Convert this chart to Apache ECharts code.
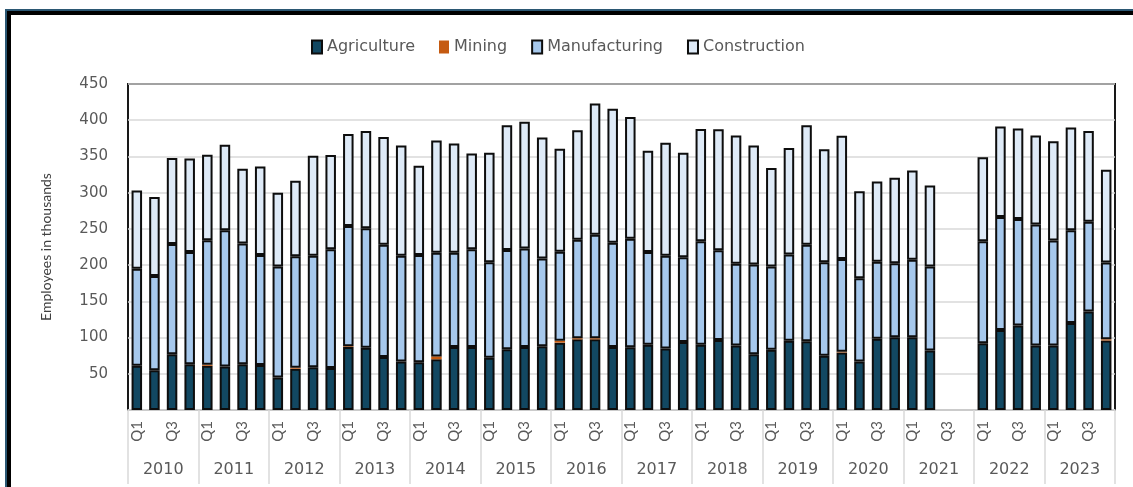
<!DOCTYPE html>
<html>
<head>
<meta charset="utf-8">
<title>Employees by sector, quarterly</title>
<script src="https://cdn.jsdelivr.net/npm/echarts@6/dist/echarts.min.js"></script>
<style>
  html, body { margin: 0; padding: 0; background: #fff; overflow: hidden; }
  #chart { position: absolute; left: 0; top: 0; width: 1133px; height: 487px; }
  .frame { position: absolute; left: 5px; top: 9px; right: -40px; bottom: -40px;
           border-left: 2px solid #2b5773; border-top: 2px solid #2b5773; pointer-events: none; }
  .frame div { position: absolute; left: 0; top: 0; right: 0; bottom: 0;
               border-left: 4px solid #000; border-top: 4px solid #000; }
</style>
</head>
<body>
<div id="chart"></div>
<div class="frame"><div></div></div>
<script>
// quarters 2010 Q1 .. 2023 Q4 (2021 Q3/Q4 not published)
const years = ['2010', '2011', '2012', '2013', '2014', '2015', '2016',
               '2017', '2018', '2019', '2020', '2021', '2022', '2023'];
const quarterNames = ['Q1', 'Q2', 'Q3', 'Q4'];

// thousands of employees
const agriculture = [
    61, 55, 77, 63,   61, 60, 63, 62,   45, 57, 59, 58,   87, 86, 73, 67,
    66, 70, 87, 87,   72, 84, 87, 88,   93, 97.5, 97.5, 87,   86.5, 90, 85, 94,
    90, 96.5, 89, 77,   83, 95.5, 95, 75,   79.5, 67, 98.5, 100.5,   100.5, 82, '-', '-',
    92, 110.5, 116.5, 89,   89, 120, 136, 96
];
const mining = [
    0, 0, 0, 0,   1.4, 0, 0, 0,   0, 1.4, 0, 0,   1, 0, 0, 0,
    0, 4, 0, 0,   0, 0, 0, 0,   2.5, 1.5, 1.5, 0,   0, 0, 0, 0,
    0, 0, 0, 0,   0, 0, 0, 0,   1, 0, 0, 0,   0, 0, '-', '-',
    0, 0, 0, 0,   0, 0, 0, 1.5
];
const manufacturing = [
    134, 130, 152, 155,   172, 188, 167, 152,   153, 154, 154, 164,   166, 165, 155, 146,
    148, 143, 130, 135,   132, 137, 136, 121,   123, 136, 143, 144,   150, 128, 128, 117,
    143, 124, 113, 124,   115, 119, 133, 129,   128, 115, 106, 102,   107, 116, '-', '-',
    141, 156, 147, 167,   145, 128, 124, 106
];
const construction = [
    108, 109, 119, 129,   118, 118, 103, 122,   102, 104, 138, 130,   127, 134, 149, 152,
    123, 155, 151, 132,   151, 172, 175, 167,   142, 151, 181, 185,   168, 140, 156, 144,
    155, 167, 177, 164,   136, 147, 165, 156,   170, 120, 111, 118,   123, 112, '-', '-',
    116, 125, 125, 123,   137, 142, 125, 128
];

const quarters = [];
years.forEach(function (y) {
    quarterNames.forEach(function (q) { quarters.push(q); });
});

const labelColor = '#595959';
const wideFont = 'DejaVu Sans';
const border = { borderColor: '#0d0d0d', borderWidth: 2 };

function barSeries(name, data, color, withBorder) {
    return {
        name: name,
        type: 'bar',
        stack: 'total',
        barWidth: 10.5,
        data: data,
        itemStyle: Object.assign({ color: color }, withBorder ? border : { borderWidth: 0 }),
        emphasis: { disabled: true }
    };
}

const chart = echarts.init(document.getElementById('chart'));
chart.setOption({
    animation: false,
    backgroundColor: '#fff',
    legend: {
        left: 306,
        top: 34,
        icon: 'rect',
        itemWidth: 10,
        itemHeight: 13,
        itemGap: 24,
        textStyle: { color: labelColor, fontFamily: wideFont, fontSize: 16 },
        data: ['Agriculture', 'Mining', 'Manufacturing', 'Construction']
    },
    grid: {
        left: 128, right: 18, top: 84, bottom: 77,
        show: true, borderColor: '#000', borderWidth: 1.8,
        backgroundColor: 'transparent'
    },
    xAxis: [{
        type: 'category',
        data: quarters,
        axisLine: { lineStyle: { color: '#d9d9d9', width: 1.5 } },
        axisTick: { show: false },
        axisLabel: {
            interval: 1,
            rotate: 90,
            margin: 11,
            color: labelColor,
            fontFamily: 'Lato',
            fontSize: 15
        }
    }, {
        type: 'category',
        data: years,
        position: 'bottom',
        axisLine: { show: false },
        axisTick: { show: true, interval: 0, length: 74, lineStyle: { color: '#d9d9d9', width: 1.5 } },
        axisLabel: {
            interval: 0,
            margin: 52,
            color: labelColor,
            fontFamily: wideFont,
            fontSize: 16
        }
    }],
    yAxis: {
        type: 'value',
        min: 0,
        max: 450,
        interval: 50,
        name: 'Employees in thousands',
        nameLocation: 'middle',
        nameGap: 75,
        nameTextStyle: { color: '#404040', fontFamily: 'Lato', fontSize: 14 },
        axisLine: { show: false },
        axisTick: { show: false },
        splitLine: { lineStyle: { color: '#d9d9d9', width: 1.5 } },
        axisLabel: {
            margin: 20,
            color: labelColor,
            fontFamily: wideFont,
            fontSize: 15,
            formatter: function (v) { return v === 0 ? '' : v; }
        }
    },
    series: [
        barSeries('Agriculture', agriculture, '#124862', true),
        barSeries('Mining', mining, '#c55a11', false),
        barSeries('Manufacturing', manufacturing, '#a6c8ec', true),
        barSeries('Construction', construction, '#deeaf7', true)
    ]
});
</script>
</body>
</html>
